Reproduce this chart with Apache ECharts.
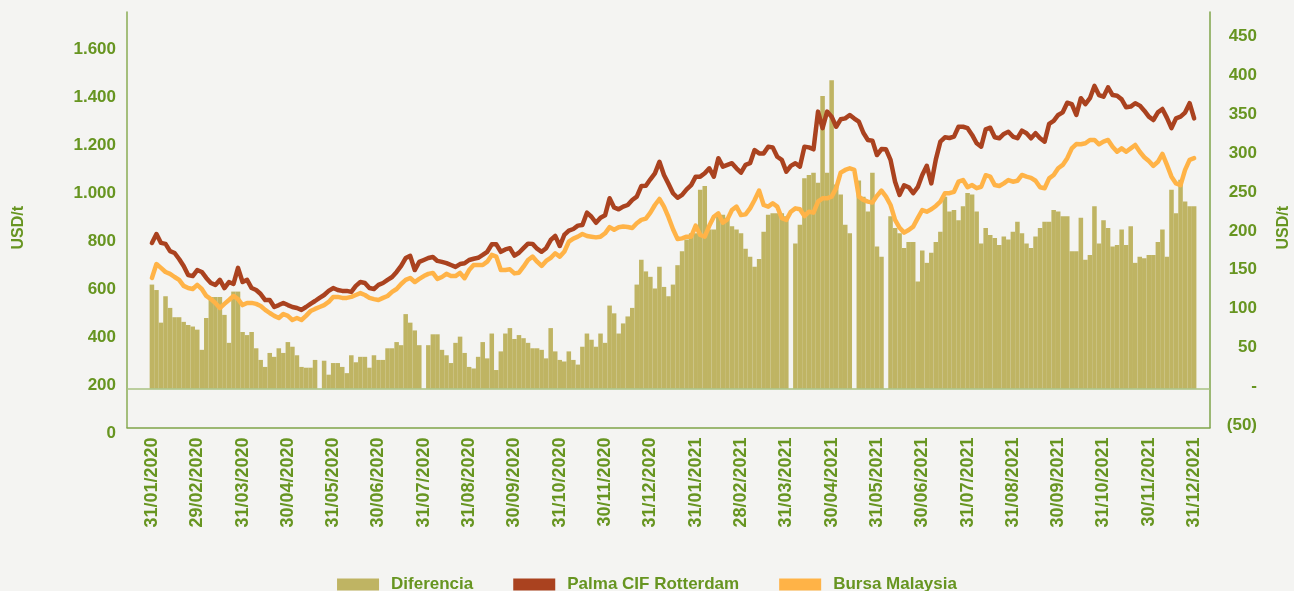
<!DOCTYPE html>
<html>
<head>
<meta charset="utf-8">
<script src="https://cdn.jsdelivr.net/npm/echarts@6/dist/echarts.min.js"></script>
<style>
  html, body { margin: 0; padding: 0; background: #f4f4f2; }
  #chart { width: 1294px; height: 591px; }
</style>
</head>
<body>
<div id="chart"></div>
<script>
// month-end labels, one every 10 points
const monthEnds = [
  "31/01/2020", "29/02/2020", "31/03/2020", "30/04/2020", "31/05/2020", "30/06/2020",
  "31/07/2020", "31/08/2020", "30/09/2020", "31/10/2020", "30/11/2020", "31/12/2020",
  "31/01/2021", "28/02/2021", "31/03/2021", "30/04/2021", "31/05/2021", "30/06/2021",
  "31/07/2021", "31/08/2021", "30/09/2021", "31/10/2021", "30/11/2021", "31/12/2021"
];
const pointsPerMonth = 10;

// USD/t, right axis
const diferencia = [
  134, 127, 85, 119, 104, 92, 92, 86, 82, 80,
  76, 50, 91, 118, 118, 118, 95, 59, 125, 125,
  73, 69, 73, 52, 37, 28, 46, 41, 52, 46,
  60, 54, 43, 28, 27, 27, 37, 0, 36, 18,
  33, 33, 28, 20, 43, 34, 41, 41, 27, 43,
  37, 37, 52, 52, 60, 56, 96, 85, 75, 56,
  0, 56, 70, 70, 50, 43, 33, 59, 67, 46,
  28, 26, 41, 60, 39, 71, 24, 48, 71, 78,
  64, 69, 65, 59, 52, 52, 50, 39, 78, 48,
  37, 35, 48, 37, 31, 54, 71, 63, 54, 71,
  59, 107, 97, 71, 84, 93, 104, 134, 166, 151,
  144, 129, 157, 131, 119, 134, 159, 177, 192, 200,
  200, 256, 261, 205, 205, 224, 224, 220, 209, 205,
  200, 180, 170, 157, 167, 202, 224, 226, 226, 226,
  222, 0, 187, 211, 271, 275, 278, 265, 377, 278,
  397, 263, 250, 211, 200, 0, 268, 247, 228, 278,
  183, 170, 0, 222, 207, 200, 181, 189, 189, 138,
  178, 162, 175, 189, 202, 247, 228, 230, 217, 235,
  252, 250, 228, 187, 207, 198, 194, 185, 196, 192,
  202, 215, 200, 187, 181, 196, 207, 215, 215, 230,
  228, 222, 222, 177, 177, 220, 166, 172, 235, 187,
  217, 207, 183, 185, 205, 185, 209, 162, 170, 168,
  172, 172, 189, 205, 170, 256, 226, 269, 241, 235,
  235
];

// USD/t, left axis
const palma = [
  769, 806, 769, 765, 735, 727, 702, 673, 635, 631,
  656, 648, 623, 602, 594, 615, 581, 606, 598, 665,
  606, 615, 581, 573, 556, 531, 531, 502, 510, 519,
  510, 502, 498, 490, 502, 515, 527, 540, 552, 569,
  581, 573, 569, 569, 565, 590, 606, 602, 581, 577,
  594, 602, 615, 627, 648, 673, 706, 715, 656, 690,
  698, 706, 710, 694, 690, 685, 677, 669, 681, 684,
  698, 703, 707, 719, 732, 763, 763, 732, 742, 747,
  716, 728, 747, 766, 765, 745, 732, 747, 781, 798,
  756, 802, 820, 827, 841, 844, 895, 878, 853, 874,
  884, 955, 917, 909, 920, 927, 948, 962, 1006, 1007,
  1034, 1059, 1107, 1052, 1015, 976, 957, 969, 992, 1010,
  1045, 1045, 1059, 1080, 1045, 1122, 1087, 1094, 1101, 1080,
  1062, 1094, 1101, 1156, 1142, 1142, 1170, 1167, 1128, 1115,
  1066, 1090, 1101, 1087, 1170, 1167, 1159, 1316, 1247, 1316,
  1295, 1253, 1284, 1288, 1302, 1287, 1274, 1228, 1198, 1195,
  1135, 1160, 1159, 1115, 1024, 969, 1009, 1001, 976, 1001,
  1052, 1090, 1017, 1117, 1191, 1209, 1206, 1212, 1253, 1253,
  1247, 1219, 1184, 1170, 1242, 1249, 1209, 1205, 1223, 1232,
  1212, 1205, 1237, 1226, 1205, 1226, 1205, 1191, 1265, 1277,
  1302, 1313, 1353, 1347, 1302, 1372, 1347, 1372, 1423, 1385,
  1378, 1417, 1385, 1382, 1367, 1334, 1337, 1351, 1341, 1320,
  1295, 1281, 1313, 1327, 1290, 1247, 1288, 1295, 1312, 1351,
  1288
];

const bursa = [
  623, 681, 665, 648, 640, 627, 615, 590, 581, 577,
  594, 577, 548, 535, 519, 498, 515, 531, 548, 535,
  510, 519, 519, 515, 506, 490, 477, 465, 456, 473,
  465, 448, 456, 448, 465, 485, 494, 502, 510, 523,
  544, 544, 540, 540, 544, 552, 560, 552, 540, 535,
  531, 540, 548, 565, 577, 598, 615, 623, 606, 619,
  631, 640, 644, 619, 627, 640, 631, 631, 644, 622,
  656, 677, 677, 677, 691, 719, 712, 656, 656, 659,
  642, 645, 670, 698, 712, 691, 673, 694, 707, 726,
  712, 732, 774, 787, 795, 806, 798, 795, 792, 795,
  809, 835, 824, 834, 837, 835, 831, 851, 865, 870,
  895, 927, 952, 920, 876, 826, 785, 788, 795, 795,
  841, 802, 795, 840, 878, 892, 853, 867, 906, 920,
  885, 888, 913, 948, 987, 927, 920, 934, 920, 872,
  865, 899, 913, 909, 881, 899, 895, 941, 955, 955,
  962, 997, 1062, 1073, 1080, 1073, 962, 948, 941, 937,
  965, 987, 962, 927, 865, 832, 812, 823, 837, 872,
  906, 899, 909, 923, 941, 976, 976, 982, 1024, 1031,
  1001, 1010, 997, 1003, 1051, 1045, 1010, 1006, 1017, 1031,
  1024, 1028, 1052, 1045, 1040, 1028, 1001, 997, 1038, 1052,
  1080, 1094, 1122, 1163, 1181, 1180, 1184, 1198, 1198, 1180,
  1191, 1198, 1170, 1149, 1163, 1149, 1163, 1177, 1149, 1126,
  1110, 1090, 1107, 1140, 1094, 1045, 1017, 1010, 1073, 1115,
  1122
];

const green = "#679521";
const font = '"Liberation Sans", Arial, sans-serif';

// empty slots at both ends so the plot frame is wider than the data
const padLeft = 5;
const padRight = 3;
const pad = (arr) => [...Array(padLeft).fill(null), ...arr, ...Array(padRight).fill(null)];

const categories = pad(palma.map((v, i) => (i % pointsPerMonth === 0 ? monthEnds[i / pointsPerMonth] : "")))
  .map(c => (c === null ? "" : c));

const fmtLeft = v => {
  if (v >= 1000) return Math.floor(v / 1000) + "." + String(v % 1000).padStart(3, "0");
  return String(v);
};
const fmtRight = v => {
  if (v === 0) return "-";
  if (v < 0) return "(" + -v + ")";
  return String(v);
};

const chart = echarts.init(document.getElementById("chart"));

const option = {
  backgroundColor: "#f4f4f2",
  animation: false,
  textStyle: { fontFamily: font },
  grid: { left: 127, right: 84, top: 12, bottom: 163.5, outerBoundsMode: "none" },
  legend: {
    data: ["Diferencia", "Palma CIF Rotterdam", "Bursa Malaysia"],
    left: "center",
    top: 571,
    icon: "rect",
    itemWidth: 42,
    itemHeight: 12,
    itemGap: 40,
    textStyle: { color: green, fontSize: 17, fontWeight: "bold", fontFamily: font, padding: [2, 0, 0, 7] }
  },
  xAxis: {
    type: "category",
    data: categories,
    boundaryGap: true,
    axisLine: { lineStyle: { color: "#7fa44a", width: 1.5 } },
    axisTick: { show: false },
    axisLabel: {
      interval: (i, v) => v !== "",
      rotate: 90,
      margin: 10,
      color: green,
      fontSize: 18,
      fontWeight: "bold",
      fontFamily: font
    }
  },
  yAxis: [
    {
      type: "value",
      min: 0,
      max: 1731,
      interval: 200,
      name: "USD/t",
      nameLocation: "middle",
      nameRotate: 90,
      nameGap: 100,
      nameTextStyle: { color: green, fontSize: 16, fontWeight: "bold", fontFamily: font, padding: [0, 16, 0, 0] },
      splitLine: { show: false },
      axisTick: { show: false },
      axisLine: { show: true, lineStyle: { color: "#8aad55", width: 1.5 } },
      axisLabel: {
        showMaxLabel: false,
        margin: 11,
        color: green,
        fontSize: 17,
        fontWeight: "bold",
        fontFamily: font,
        verticalAlign: "top",
        lineHeight: 11,
        formatter: fmtLeft
      }
    },
    {
      type: "value",
      min: -50,
      max: 485,
      interval: 50,
      name: "USD/t",
      nameLocation: "middle",
      nameRotate: 90,
      nameGap: 66,
      nameTextStyle: { color: green, fontSize: 16, fontWeight: "bold", fontFamily: font, padding: [0, 16, 0, 0] },
      splitLine: { show: false },
      axisTick: { show: false },
      axisLine: { show: true, lineStyle: { color: "#7fa44a", width: 1.5 } },
      axisLabel: {
        showMaxLabel: false,
        align: "right",
        margin: 47,
        color: green,
        fontSize: 17,
        fontWeight: "bold",
        fontFamily: font,
        verticalAlign: "bottom",
        lineHeight: 5,
        formatter: fmtRight
      }
    }
  ],
  series: [
    {
      name: "Diferencia",
      type: "bar",
      yAxisIndex: 1,
      barCategoryGap: "0%",
      itemStyle: { color: "#bfb463" },
      data: pad(diferencia),
      markLine: {
        silent: true,
        symbol: "none",
        label: { show: false },
        lineStyle: { color: "#a9c282", width: 1.5, type: "solid" },
        data: [{ yAxis: 0 }]
      }
    },
    {
      name: "Palma CIF Rotterdam",
      type: "line",
      yAxisIndex: 0,
      symbol: "none",
      lineStyle: { color: "#aa421f", width: 4.5, join: "round", cap: "round" },
      itemStyle: { color: "#aa421f" },
      data: pad(palma)
    },
    {
      name: "Bursa Malaysia",
      type: "line",
      yAxisIndex: 0,
      symbol: "none",
      lineStyle: { color: "#ffb347", width: 4.5, join: "round", cap: "round" },
      itemStyle: { color: "#ffb347" },
      data: pad(bursa)
    }
  ]
};

chart.setOption(option);
</script>
</body>
</html>
